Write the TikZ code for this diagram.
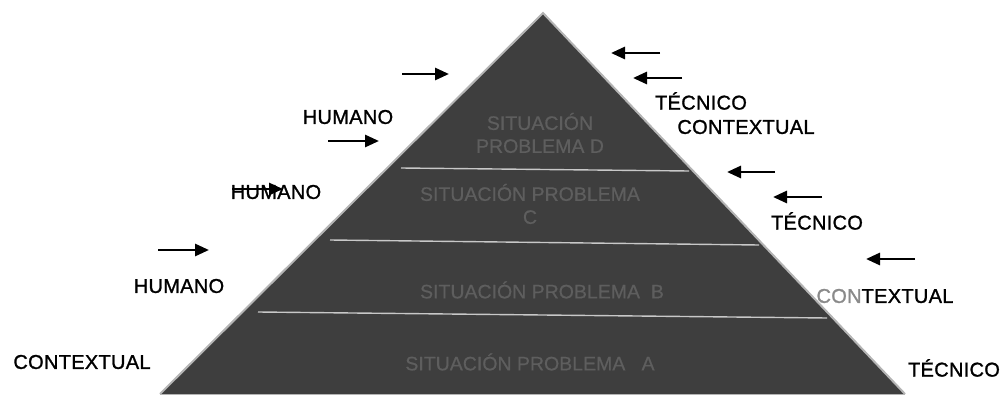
\documentclass[tikz,border=0pt]{standalone}
\usepackage{fontspec}
\setmainfont{Liberation Sans}[FakeBold=0.6]
\newfontfamily\lblfont{Liberation Sans}[LetterSpace=1.5,FakeBold=1.2]
\usetikzlibrary{arrows.meta}
\definecolor{pyrfill}{HTML}{3E3E3E}
\definecolor{pyredge}{HTML}{B4B4B4}
\definecolor{pyrtext}{HTML}{5E5E5E}
\definecolor{sepline}{HTML}{C8C8C8}
\begin{document}
\begin{tikzpicture}[x=1pt,y=-1pt,
  lbl/.style={inner sep=0pt,font=\lblfont\fontsize{20}{24}\selectfont,text=black},
  inlbl/.style={inner sep=0pt,align=center,font=\fontsize{19.5}{23}\selectfont,text=pyrtext},
  arr/.style={line width=2.8pt,-{Triangle[length=14pt,width=12pt]}},
  sep/.style={draw=sepline,line width=1.4pt}]
\useasboundingbox (0,0) rectangle (1002,396);
% pyramid
\coordinate (apex) at (543,13);
\coordinate (bl) at (160,394);
\coordinate (br) at (905,394);
\fill[pyrfill] (apex) -- (br) -- (bl) -- cycle;
\draw[pyredge,line width=2pt,line join=miter] (bl) -- (apex) -- (br);
\draw[pyredge,line width=1pt] (bl) -- (br);
% separators
\coordinate (s1l) at (401,168); \coordinate (s1r) at (689,171);
\coordinate (s2l) at (330,240); \coordinate (s2r) at (759,245);
\coordinate (s3l) at (258,312); \coordinate (s3r) at (827,318);
\draw[sep] (s1l) -- (s1r);
\draw[sep] (s2l) -- (s2r);
\draw[sep] (s3l) -- (s3r);
% inner labels
\node[inlbl] (pd) at (540,133) {SITUACIÓN\\PROBLEMA D};
\node[inlbl] (pc) at (530,204) {SITUACIÓN PROBLEMA\\C};
\node[inlbl] (pb) at (542,290) {SITUACIÓN PROBLEMA\ \ B};
\node[inlbl] (pa) at (530,362) {SITUACIÓN PROBLEMA\ \ \ A};
% left labels
\node[lbl] (h1) at (348,117) {HUMANO};
\node[lbl] (h2) at (276,192) {HUMANO};
\node[lbl] (h3) at (179,286) {HUMANO};
\node[lbl] (cl) at (82,362) {CONTEXTUAL};
% right labels
\node[lbl] (t1) at (701,101) {TÉCNICO};
\node[lbl] (c1) at (746,127) {CONTEXTUAL};
\node[lbl] (t2) at (817,221) {TÉCNICO};
\node[lbl] (c2) at (885,296) {{\color[HTML]{8A8A8A}CON}TEXTUAL};
\node[lbl] (t3) at (954,368) {TÉCNICO};
% left arrows
\coordinate (la1s) at (402,74); \coordinate (la1e) at (449,74);
\coordinate (la2s) at (328,141); \coordinate (la2e) at (379,141);
\coordinate (la3s) at (232,189); \coordinate (la3e) at (283,189);
\coordinate (la4s) at (158,250); \coordinate (la4e) at (209,250);
\draw[arr] (la1s) -- (la1e);
\draw[arr] (la2s) -- (la2e);
\draw[arr] (la3s) -- (la3e);
\draw[arr] (la4s) -- (la4e);
% right arrows
\coordinate (ra1s) at (660,53); \coordinate (ra1e) at (611,53);
\coordinate (ra2s) at (682,78); \coordinate (ra2e) at (633,78);
\coordinate (ra3s) at (775,172); \coordinate (ra3e) at (727,172);
\coordinate (ra4s) at (822,197); \coordinate (ra4e) at (773,197);
\coordinate (ra5s) at (915,259); \coordinate (ra5e) at (866,259);
\draw[arr] (ra1s) -- (ra1e);
\draw[arr] (ra2s) -- (ra2e);
\draw[arr] (ra3s) -- (ra3e);
\draw[arr] (ra4s) -- (ra4e);
\draw[arr] (ra5s) -- (ra5e);
\end{tikzpicture}
\end{document}
